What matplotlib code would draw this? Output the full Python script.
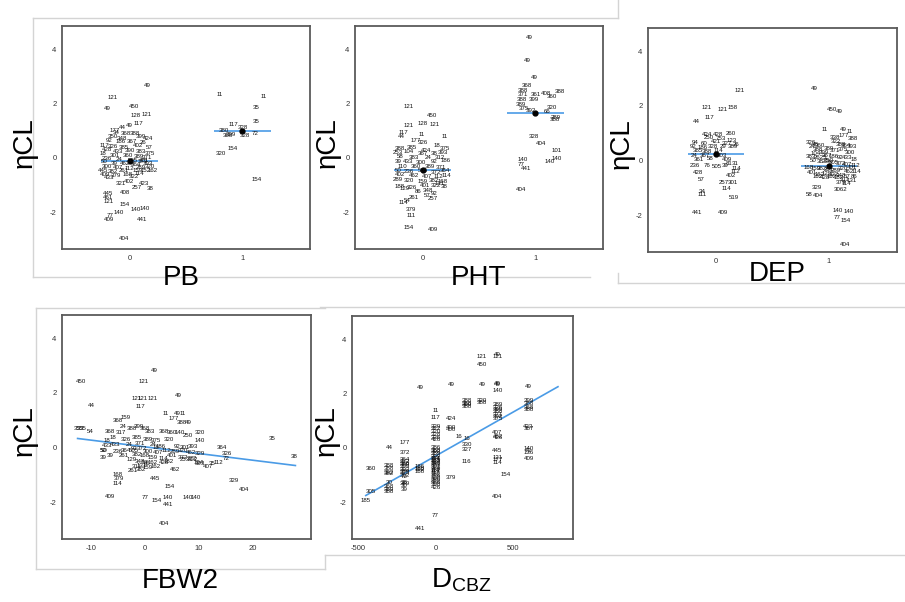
import matplotlib
matplotlib.use("Agg")
import matplotlib.pyplot as plt

plt.rcParams['font.family'] = ['Liberation Sans', 'DejaVu Sans']
plt.rcParams['mathtext.fontset'] = 'custom'
plt.rcParams['mathtext.rm'] = 'Liberation Sans'
plt.rcParams['axes.unicode_minus'] = False

# ---- PB (0/1) vs etaCL, points labelled by subject id ----
pb_x = [0.16, -0.15, -0.2, 0.04, 0.15, 0.05, 0.08, 0.0, -0.06, -0.13, -0.15,
        0.14, 0.2, -0.08, -0.01, -0.04, 0.06, 0.13, 0.18, -0.19, -0.19, -0.19,
        -0.04, 0.05, 0.13, -0.1, -0.17, -0.18, 0.11, -0.05,
        -0.12, -0.03, 0.05, 0.1, 0.16, -0.18, -0.08, 0.02, 0.12, -0.22,
        -0.15, -0.05, 0.07, 0.17, -0.2, -0.1, 0.0, 0.1, 0.18, -0.24,
        -0.13, -0.02, 0.08, 0.15, -0.2, -0.09, 0.03, 0.12, -0.23, -0.14,
        -0.04, 0.06, 0.16, -0.2, -0.1, 0.0, 0.1, 0.18, -0.24, -0.15,
        -0.05, 0.07, -0.22, -0.12, -0.02, 0.09, -0.18, 0.04, 0.13, -0.07,
        0.8, 1.19, 1.12, 1.12, 0.92, 1.0, 0.84, 0.87, 0.9, 1.02, 1.11, 0.91, 0.81, 1.13]
pb_y = [2.67, 2.23, 1.83, 1.9, 1.6, 1.55, 1.25, 1.2, 1.1, 1.02, 0.8,
        -0.46, -0.46, -0.95, -0.85, -1.27, -1.1, -0.95, -1.13, -1.3, -1.45, -1.6,
        -1.73, -1.9, -1.87, -2.0, -2.1, -2.25, -2.25, -2.95,
        0.92, 0.9, 0.88, 0.8, 0.7, 0.65, 0.62, 0.6, 0.58, 0.45,
        0.42, 0.4, 0.45, 0.4, 0.3, 0.25, 0.28, 0.22, 0.15, 0.15,
        0.1, 0.08, 0.05, 0.0, -0.02, -0.05, -0.08, -0.12, -0.15, -0.2,
        -0.22, -0.25, -0.2, -0.32, -0.35, -0.38, -0.36, -0.3, -0.45, -0.5,
        -0.48, -0.46, -0.62, -0.65, -0.6, -0.58, -0.72, -0.7, -0.1, 0.72,
        2.33, 2.25, 1.86, 1.33, 1.21, 1.13, 0.99, 0.84, 0.85, 0.82, 0.9, 0.36, 0.15, -0.8]
pb_id = ['49', '121', '49', '450', '121', '128', '117', '49', '44', '177', '350',
         '152', '162', '321', '402', '408', '257', '423', '38', '445', '461', '121',
         '154', '140', '140', '140', '77', '409', '441', '404',
         '34', '368', '388', '399', '424', '92', '186', '367', '26', '117',
         '326', '385', '402', '57', '428', '433', '390', '383', '375', '18',
         '301', '360', '389', '371', '236', '24', '505', '372', '50', '39',
         '462', '364', '393', '300', '407', '112', '289', '320', '445', '382',
         '261', '159', '409', '379', '168', '114', '433', '322', '401', '348',
         '11', '11', '35', '35', '117', '328', '380', '368', '399', '328', '72', '154', '320', '154']
pb_means = [-0.1, 1.0]

# ---- PHT ----
pht_x = [-0.12, 0.08, -0.12, 0.0, 0.11, -0.17, -0.19, -0.01, 0.2, -0.06, 0.0, 0.03,
         0.09, -0.08, -0.14, -0.17, -0.1, -0.1, -0.12, 0.09,
         -0.2, -0.1, 0.13, 0.2, -0.22, -0.12, 0.0, 0.1, 0.18, -0.2,
         -0.08, 0.05, 0.15, -0.22, -0.13, -0.02, 0.1, 0.2, -0.18, -0.06,
         0.06, 0.16, -0.22, -0.12, 0.0, 0.12, 0.2, -0.2, -0.08, 0.04,
         0.14, 0.21, -0.22, -0.12, 0.0, 0.1, 0.18, -0.2, -0.1, 0.02,
         0.12, 0.19, -0.16, 0.05, 0.1, 0.04, -0.04, 0.15,
         0.95, 0.93, 0.99, 0.92, 0.89, 0.89, 1.0, 1.09, 1.15, 1.22, 0.99, 0.88,
         0.87, 0.9, 0.96, 1.15, 1.1, 1.18, 1.17, 0.99, 1.05, 1.19, 1.19, 1.13,
         0.89, 0.87, 0.92, 0.87]
pht_y = [1.88, 1.55, 1.2, 1.25, 1.23, 0.93, 0.8, 0.86, 0.78, 0.64, 0.55, 0.26,
         -1.49, -1.47, -1.58, -1.65, -1.9, -2.1, -2.55, -2.65,
         0.35, 0.4, 0.45, 0.35, 0.2, 0.22, 0.15, 0.18, 0.2, 0.05,
         0.0, 0.02, 0.0, -0.12, -0.15, -0.18, -0.15, -0.1, -0.3, -0.32,
         -0.3, -0.35, -0.45, -0.5, -0.48, -0.52, -0.46, -0.62, -0.65, -0.68,
         -0.7, -0.66, -0.78, -0.82, -0.85, -0.82, -0.88, -1.05, -1.08, -1.02,
         -1.0, -1.05, -1.12, -1.2, -1.3, -1.38, -1.25, -0.95,
         4.44, 3.59, 2.96, 2.65, 2.48, 2.33, 2.33, 2.36, 2.25, 2.45, 2.15, 2.15,
         1.96, 1.82, 1.73, 1.86, 1.7, 1.5, 1.4, 0.8, 0.52, 0.26, -0.01, -0.13,
         -0.06, -0.24, -0.4, -1.16]
pht_id = ['121', '450', '121', '128', '121', '117', '44', '11', '11', '177', '326', '424',
          '257', '261', '54', '114', '379', '111', '154', '409',
          '388', '385', '18', '375', '253', '104', '367', '38', '393', '58',
          '383', '24', '312', '39', '433', '300', '92', '186', '110', '360',
          '389', '371', '50', '236', '505', '372', '364', '402', '462', '407',
          '112', '114', '289', '320', '159', '382', '168', '188', '326', '401',
          '322', '38', '129', '348', '92', '57', '86', '131',
          '49', '49', '49', '368', '388', '371', '361', '408', '360', '388', '399', '388',
          '389', '375', '392', '320', '66', '289', '388', '328', '404', '101', '140', '140',
          '140', '77', '441', '404']
pht_means = [-0.45, 1.65]

# ---- DEP ----
dep_x = [0.21, -0.08, 0.06, 0.15, -0.06, -0.17, -0.08, 0.02, 0.13, 0.1, -0.19, 0.01,
         -0.16, -0.13, 0.13, 0.07, 0.15, 0.09, -0.12, -0.12, 0.16, -0.17, 0.06,
         -0.06, 0.04, 0.14, -0.18, -0.1, 0.0, 0.1, 0.18, -0.2, -0.12, -0.03, 0.06,
         0.15, -0.16, -0.08, 0.02, -0.19, -0.1, 0.05, -0.15, -0.05, 0.12, 0.17,
         -0.08, 0.08, 0.18, 0.17,
         0.87, 1.03, 1.09, 0.96, 1.13, 1.18, 1.05, 1.13, 1.21, 0.89, 0.82, 0.9,
         1.1, 1.08, 1.17, 1.07, 1.15, 1.14,
         0.84, 0.88, 0.92, 0.85, 0.9, 1.06, 1.1, 1.15, 1.2, 1.0, 1.05, 1.12,
         1.18, 0.84, 0.92, 0.98, 1.04, 1.1, 1.16, 1.22, 0.86, 0.92, 0.98, 1.04,
         1.1, 1.16, 1.23, 0.82, 0.88, 0.94, 1.0, 1.06, 1.12, 1.18, 1.24, 0.85,
         0.92, 0.98, 1.04, 1.1, 1.16, 1.22, 0.9, 0.96, 1.02, 1.08, 1.14, 1.2,
         1.1, 1.15, 0.95, 1.0, 1.2, 0.88]
dep_y = [2.56, 1.93, 1.88, 1.93, 1.57, 1.43, 0.95, 0.95, 1.0, 0.04, -0.17, -0.22,
         -0.43, -0.7, -0.56, -0.8, -0.8, -1.02, -1.13, -1.24, -1.35, -1.9, -1.9,
         0.85, 0.82, 0.75, 0.65, 0.62, 0.68, 0.64, 0.6, 0.5, 0.48, 0.52, 0.5,
         0.52, 0.35, 0.32, 0.38, 0.2, 0.18, 0.2, 0.05, 0.08, -0.1, -0.12,
         -0.2, -0.18, -0.3, -0.4,
         2.62, 1.87, 1.78, 1.14, 1.13, 1.07, 0.85, 0.91, 0.82, -1.0, -1.23, -1.28,
         -1.05, -1.83, -1.85, -2.09, -2.18, -3.06,
         0.65, 0.6, 0.55, 0.5, 0.42, 0.68, 0.6, 0.55, 0.5, 0.45, 0.38, 0.4,
         0.3, 0.15, 0.12, 0.2, 0.15, 0.12, 0.1, 0.05, 0.0, -0.05, -0.02, -0.08,
         -0.12, -0.15, -0.18, -0.25, -0.3, -0.28, -0.32, -0.35, -0.3, -0.4, -0.42, -0.45,
         -0.5, -0.48, -0.52, -0.55, -0.58, -0.6, -0.6, -0.62, -0.58, -0.62, -0.7, -0.72,
         -0.8, -0.85, 0.3, 0.0, -0.25, 0.25]
dep_id = ['121', '121', '121', '158', '117', '44', '424', '428', '260', '409', '236', '505',
          '428', '57', '402', '257', '301', '114', '34', '111', '519', '441', '409',
          '250', '753', '123', '94', '60', '421', '327', '26', '92', '186', '328', '29',
          '389', '385', '388', '114', '24', '367', '403', '361', '58', '81', '31',
          '76', '39', '114', '112',
          '49', '450', '49', '11', '49', '11', '338', '177', '388', '329', '58', '404',
          '3062', '140', '140', '77', '154', '404',
          '326', '48', '360', '24', '388', '322', '388', '364', '393', '389', '371', '375',
          '300', '383', '2625', '367', '186', '92', '433', '18', '50', '38', '236', '505',
          '372', '407', '112', '168', '159', '382', '261', '289', '320', '462', '114', '401',
          '162', '129', '322', '348', '57', '86', '162', '428', '162', '182', '311', '131',
          '379', '114', '399', '253', '401', '104']
dep_means = [0.25, -0.2]

# ---- FBW2 (continuous) ----
fbw_x = [1.85, -11.85, -0.13, 6.2, -1.6, -0.4, 1.5, -0.8, -9.9, 3.9, 6.1, 7.1, 5.4,
         6.9, 8.0, -5.06, -3.6, -4.0, -12.6, -12.0, -11.4, -10.1, -6.5, 23.6, 27.8,
         10.2, 10.2, 14.4, 15.2, 15.1, 16.5, 18.5, 5.7, 1.85, 4.6, 4.2, 0.0, 2.2,
         4.4, 8.0, 9.5, 3.6, -6.5, -5.1, -4.9, -5.1, -2.2, -0.7, -7.7, -7.7, -7.0,
         -7.1, 8.7, 10.2, 11.8, 12.5, 13.7, 10.2,
         -4.5, -2.5, -1.2, 0.0, 1.0, 3.5, 5.0, 6.5, 8.0, -6.0, -3.5, -1.5, 0.5,
         2.0, 4.5, -5.5, -3.0, -1.0, 1.5, 3.0, 6.0, 7.5, 9.0, -7.5, -5.0, -3.5,
         -2.0, -0.5, 0.5, 2.5, 4.0, 5.5, 7.0, 8.5, -6.5, -4.0, -1.5, 0.0, 1.5,
         3.5, 5.0, 7.0, 9.0, -2.5, -1.0, 0.0, 0.5, 1.5, 3.5, 4.5, -1.5, -0.5,
         0.5, 2.0, 7.5, 10.0, -2.0, 2.0]
fbw_y = [2.83, 2.41, 2.41, 1.89, 1.79, 1.79, 1.79, 1.5, 1.55, 1.24, 1.25, 1.25, 1.05,
         0.93, 0.93, 1.0, 1.1, 0.76, 0.69, 0.69, 0.69, 0.6, 0.6, 0.33, -0.32,
         0.54, 0.27, -0.01, -0.23, -0.41, -1.21, -1.54, -0.81, -1.12, -1.44, -1.83, -1.83, -1.95,
         -2.1, -1.83, -1.83, -2.8, -1.8, -1.32, -1.14, -0.99, -0.84, -0.81, -0.35, -0.12, 0.09,
         0.27, -0.4, -0.6, -0.7, -0.58, -0.54, -0.22,
         0.55, 0.7, 0.75, 0.7, 0.6, 0.6, 0.55, 0.55, 0.45, 0.35, 0.3, 0.35, 0.3,
         0.25, 0.3, 0.1, 0.1, 0.15, 0.1, 0.05, 0.05, 0.0, 0.05, -0.1, -0.15, -0.12,
         -0.1, -0.05, -0.15, -0.2, -0.1, -0.15, -0.1, -0.2, -0.28, -0.3, -0.25, -0.3, -0.35,
         -0.4, -0.3, -0.35, -0.45, -0.45, -0.5, -0.55, -0.6, -0.55, -0.55, -0.5, -0.68, -0.65,
         -0.72, -0.68, -0.45, -0.55, -0.05, 0.0]
fbw_id = ['49', '450', '121', '49', '121', '121', '121', '117', '44', '11', '49', '11', '177',
          '388', '49', '368', '159', '24', '35', '35', '35', '54', '368', '35', '38',
          '320', '140', '364', '326', '72', '329', '404', '462', '445', '154', '140', '77', '154',
          '441', '140', '140', '404', '409', '114', '379', '168', '261', '382', '39', '50', '433',
          '18', '372', '393', '407', '35', '112', '329',
          '317', '388', '399', '368', '383', '368', '360', '140', '250', '18', '326', '385', '389',
          '375', '320', '433', '24', '371', '24', '186', '92', '301', '393', '50', '236', '364',
          '505', '372', '300', '407', '112', '289', '320', '462', '39', '261', '382', '168', '159',
          '114', '401', '372', '322', '129', '348', '57', '86', '162', '428', '182', '311', '131',
          '159', '162', '253', '104', '92', '18']
fbw_fit_x = [-12.5, 28.0]
fbw_fit_y = [0.33, -0.66]

# ---- D_CBZ (continuous, discrete dose steps) ----
dcbz_x = [-450, -420, -416,
          -300, -300, -300, -300, -300, -300, -300, -300, -300,
          -200, -200, -200, -200, -200, -200, -200, -200, -200, -200, -200, -200,
          -200, -200, -200, -200,
          -100, -100, -100, -100, -100, -100,
          0, 0, 0, 0, 0, 0, 0, 0, 0, 0, 0, 0, 0, 0, 0, 0, 0, 0, 0, 0, 0, 0,
          0, 0, 0, 0, 0, 0, 0, 0, 0, 0, 0,
          100, 100, 100, 100, 100, 150,
          200, 200, 200, 200, 200, 200, 200, 200,
          300, 300, 300, 300, 300,
          400, 400, 400, 400, 400, 400, 400, 400, 400, 400, 400, 400, 400, 400,
          452, 400, 400, 400, 400, 400, 400,
          600, 600, 600, 600, 600, 600, 600, 600, 600, 600, 600, 600, 600, 600, 600,
          800]
dcbz_y = [-1.95, -1.6, -0.75,
          0.0, -0.65, -0.75, -0.9, -0.95, -1.26, -1.42, -1.54, -1.6,
          0.21, -0.16, -0.44, -0.5, -0.56, -0.62, -0.7, -0.78, -0.85, -0.92, -1.0, -1.05,
          -1.26, -1.32, -1.4, -1.54, -2.95,
          2.22, -0.69, -0.75, -0.8, -0.87, -2.49,
          1.12, 0.78, 0.7, 0.62, 0.5, 0.38, 0.3, 0.0, -0.08, -0.15, -0.22, -0.3, -0.38,
          -0.45, -0.52, -0.6, -0.68, -0.75, -0.82, -0.9, -0.98, -1.05, -1.12, -1.2,
          -1.28, -1.36, -1.46,
          1.36, -0.38, -0.45, -0.56, -0.83, -1.09,
          2.34, 1.09, 0.75, 0.66, 0.42, 0.36, 0.13, -0.07,
          1.73, 1.64, 1.58, 1.52, -0.5,
          3.36, 3.05, 2.34, 1.73, 1.66, 1.58, 1.5, 1.4, 1.32, 1.24, 1.17, 1.09, 0.58, 0.38,
          0.42, -0.11, -0.36, -0.44, -0.53, -0.96, -1.79,
          3.42, 3.36, 2.38, 2.32, 2.11, 1.73, 1.64, 1.48, 1.4, 0.78, 0.7, -0.01, -0.1, -0.17, -0.4,
          2.25]
dcbz_id = ['185', '305', '360',
           '44', '388', '388', '392', '382', '30', '368', '389', '388',
           '177', '372', '364', '372', '388', '389', '399', '393', '389', '375', '392', '72',
           '38', '389', '30', '39', '441',
           '49', '186', '186', '162', '168', '77',
           '117', '329', '322', '320', '328', '326', '426', '386', '388', '392', '389', '399', '371',
           '385', '367', '383', '301', '360', '114', '112', '382', '159', '300', '289',
           '366', '398', '426',
           '11', '114', '172', '140', '162', '379',
           '49', '424', '400', '400', '16', '16', '330', '327',
           '388', '388', '360', '388', '116',
           '121', '450', '49', '320', '388', '389', '326', '399', '388', '371', '392', '375', '407', '426',
           '462', '445', '121', '177', '114', '154', '404',
           '49', '121', '49', '49', '140', '399', '388', '368', '388', '423', '387', '140', '72', '136', '409',
           '49']
dcbz_fit_x = [-450, 790]
dcbz_fit_y = [-1.75, 2.25]

W, H = 905, 602
BLUE = '#4a9be6'
fig = plt.figure(figsize=(W / 100, H / 100), dpi=100)


def px_axes(x0, y0, x1, y1):
    return fig.add_axes([x0 / W, 1 - y1 / H, (x1 - x0) / W, (y1 - y0) / H])


# light frames of the pasted images
bg = fig.add_axes([0, 0, 1, 1])
bg.set_xlim(0, W)
bg.set_ylim(H, 0)
bg.axis('off')
frame_segments = [((33, 18), (618, 18)), ((618, 0), (618, 18)), ((33, 18), (33, 277)),
                  ((33, 277), (590, 277)), ((618, 273), (618, 283)), ((618, 283), (905, 283)),
                  ((36, 308), (325, 308)), ((36, 308), (36, 569)), ((36, 569), (325, 569)),
                  ((325, 555), (325, 569)), ((320, 307), (905, 307)), ((325, 555), (905, 555))]
for (xa, ya), (xb, yb) in frame_segments:
    bg.plot([xa, xb], [ya, yb], color='#d4d4d4', lw=1)


def style_axes(ax, xlim, xticks):
    ax.set_xlim(*xlim)
    ax.set_ylim(-3.35, 4.85)
    ax.set_xticks(xticks)
    ax.set_yticks([-2, 0, 2, 4])
    ax.tick_params(length=0, labelsize=5.5, pad=4, colors='#333333')
    for s in ax.spines.values():
        s.set_color('#5a5a5a')
        s.set_linewidth(1.3)


def label_points(ax, xs, ys, ids):
    for x, y, t in zip(xs, ys, ids):
        ax.text(x, y, t, fontsize=4.4, ha='center', va='center', color='#111111')


def group_panel(box, xs, ys, ids, means):
    ax = px_axes(*box)
    style_axes(ax, (-0.6, 1.6), [0, 1])
    label_points(ax, xs, ys, ids)
    for g, m in enumerate(means):
        ax.hlines(m, g - 0.25, g + 0.25, color=BLUE, lw=1.2)
        ax.plot(g, m, 'o', color='black', ms=3.5)
    return ax


group_panel((62, 26, 310, 249), pb_x, pb_y, pb_id, pb_means)
group_panel((355, 26, 603, 249), pht_x, pht_y, pht_id, pht_means)
group_panel((648, 28, 897, 252), dep_x, dep_y, dep_id, dep_means)

ax4 = px_axes(62, 315, 311, 539)
style_axes(ax4, (-15.4, 30.9), [-10, 0, 10, 20])
label_points(ax4, fbw_x, fbw_y, fbw_id)
ax4.plot(fbw_fit_x, fbw_fit_y, color=BLUE, lw=1.2)

ax5 = px_axes(352, 316, 573, 539)
style_axes(ax5, (-539, 887), [-500, 0, 500])
label_points(ax5, dcbz_x, dcbz_y, dcbz_id)
ax5.plot(dcbz_fit_x, dcbz_fit_y, color=BLUE, lw=1.2)

# axis titles
big = dict(fontsize=20, ha='center', va='center', color='black')
for x, y in [(25, 143), (328, 143), (622, 144), (25, 431), (327, 431)]:
    fig.text(x / W, 1 - y / H, 'ηCL', rotation=90, **big)
for x, y, t in [(181, 278, 'PB'), (478, 278, 'PHT'), (777, 274, 'DEP'), (180, 581, 'FBW2')]:
    fig.text(x / W, 1 - y / H, t, **big)
fig.text(461 / W, 1 - 580 / H, r'D$_{\mathrm{CBZ}}$', **big)

fig.savefig('out.png', dpi=100)
